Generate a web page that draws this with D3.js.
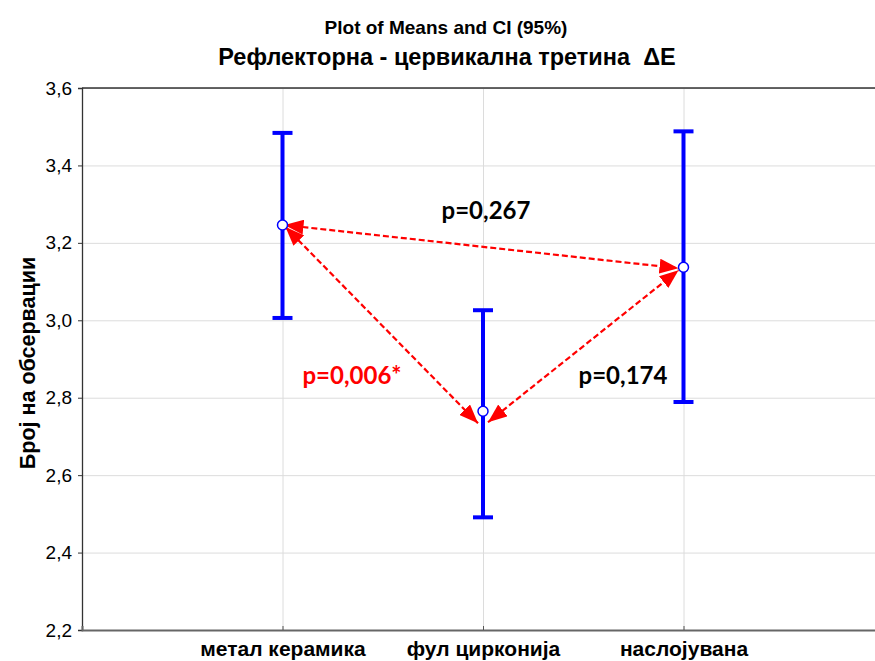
<!DOCTYPE html>
<html>
<head>
<meta charset="utf-8">
<script src="https://cdn.jsdelivr.net/npm/d3@7"></script>
<style>
  body { margin: 0; background: #fff; }
  svg { display: block; }
</style>
</head>
<body>
<div id="chart"></div>
<script>
// groups and their means with 95% CI
const categories = ["метал керамика", "фул циркониja", "наслојувана"];
const means = [3.246, 2.765, 3.137];
const ciLower = [3.006, 2.491, 2.789];
const ciUpper = [3.484, 3.026, 3.488];
const yTicks = [2.2, 2.4, 2.6, 2.8, 3.0, 3.2, 3.4, 3.6];

// pairwise comparisons drawn as double arrows
const comparisons = [
  { a: 0, b: 2, label: "p=0,267", significant: false },
  { a: 0, b: 1, label: "p=0,006*", significant: true },
  { a: 1, b: 2, label: "p=0,174", significant: false }
];

const width = 875;
const height = 661;
const margin = { top: 88, right: -9, bottom: 31, left: 82 };

const svg = d3.select('#chart')
  .append('svg')
  .attr('width', width)
  .attr('height', height);

const x = d3.scaleLinear()
  .domain([0, categories.length + 1])
  .range([margin.left, width - margin.right]);

const y = d3.scaleLinear()
  .domain([2.2, 3.6])
  .range([height - margin.bottom, margin.top]);

// titles
svg.append('text')
  .attr('x', 446).attr('y', 34)
  .attr('text-anchor', 'middle')
  .style('font', 'bold 19px "Liberation Sans", Arial, sans-serif')
  .text('Plot of Means and CI (95%)');

svg.append('text')
  .attr('x', 447).attr('y', 65)
  .attr('text-anchor', 'middle')
  .style('font', 'bold 23.5px "Liberation Sans", Arial, sans-serif')
  .style('white-space', 'pre')
  .text('Рефлекторна - цервикална третина  ΔE');

// gridlines
svg.append('g')
  .attr('class', 'grid-y')
  .attr('transform', `translate(${margin.left},0)`)
  .call(d3.axisLeft(y).tickValues(yTicks).tickFormat('').tickSize(-(width - margin.left)))
  .call(g => g.select('.domain').remove())
  .call(g => g.selectAll('line').attr('stroke', '#dcdcdc'));

svg.append('g')
  .attr('class', 'grid-x')
  .attr('transform', `translate(0,${margin.top})`)
  .call(d3.axisBottom(x).tickValues([1, 2, 3]).tickFormat('').tickSize(height - margin.bottom - margin.top))
  .call(g => g.select('.domain').remove())
  .call(g => g.selectAll('line').attr('stroke', '#dcdcdc'));

// frame: top line and left axis
svg.append('line')
  .attr('x1', margin.left).attr('x2', width)
  .attr('y1', y(3.6)).attr('y2', y(3.6))
  .attr('stroke', '#333').attr('stroke-width', 1.3);

const yAxis = svg.append('g')
  .attr('transform', `translate(${margin.left},0)`)
  .call(d3.axisLeft(y).tickValues(yTicks).tickSize(4).tickPadding(6)
    .tickFormat(d => d3.format('.1f')(d).replace('.', ',')));
yAxis.select('.domain').attr('stroke', '#333').attr('stroke-width', 1.3);
yAxis.selectAll('line').attr('stroke', '#333');
yAxis.selectAll('text')
  .style('font', '19px "Liberation Sans", Arial, sans-serif')
  .attr('fill', '#000');

// bottom axis
const xAxis = svg.append('g')
  .attr('transform', `translate(0,${y(2.2)})`)
  .call(d3.axisBottom(x).tickValues([1, 2, 3]).tickSize(-4).tickPadding(11)
    .tickFormat(d => categories[d - 1]));
xAxis.select('.domain').attr('stroke', '#666').attr('stroke-width', 2);
xAxis.selectAll('line').attr('stroke', '#555');
xAxis.selectAll('text')
  .style('font', 'bold 21px "Liberation Sans", Arial, sans-serif')
  .attr('fill', '#000');

// y title
svg.append('text')
  .attr('transform', `translate(35,${(y(2.2) + y(3.6)) / 2 + 4}) rotate(-90)`)
  .attr('text-anchor', 'middle')
  .style('font', 'bold 21.5px "Liberation Sans", Arial, sans-serif')
  .text('Број на обсервации');

// arrowhead marker
svg.append('defs').append('marker')
  .attr('id', 'arrow')
  .attr('viewBox', '0 0 19 15')
  .attr('refX', 19).attr('refY', 7.5)
  .attr('markerWidth', 19).attr('markerHeight', 15)
  .attr('markerUnits', 'userSpaceOnUse')
  .attr('orient', 'auto-start-reverse')
  .append('path')
  .attr('d', 'M0,0 L19,7.5 L0,15 Z')
  .attr('fill', '#ff0000');

// arrow end points, nudged off the mean markers
const endOffset = {
  '0-2': [[2, 0], [-5, 1]],
  '0-1': [[3, 2], [-5, 12]],
  '1-2': [[5, 11], [-5, 3]]
};

const arrows = svg.append('g').attr('class', 'arrows');
comparisons.forEach(c => {
  const [oa, ob] = endOffset[`${c.a}-${c.b}`];
  arrows.append('line')
    .attr('x1', x(c.a + 1) + oa[0]).attr('y1', y(means[c.a]) + oa[1])
    .attr('x2', x(c.b + 1) + ob[0]).attr('y2', y(means[c.b]) + ob[1])
    .attr('stroke', '#ff0000')
    .attr('stroke-width', 2.2)
    .attr('stroke-dasharray', '6,3')
    .attr('marker-start', 'url(#arrow)')
    .attr('marker-end', 'url(#arrow)');
});

// error bars
const bars = svg.append('g').attr('class', 'bars');
categories.forEach((cat, i) => {
  const cx = x(i + 1);
  bars.append('line')
    .attr('x1', cx).attr('x2', cx)
    .attr('y1', y(ciLower[i])).attr('y2', y(ciUpper[i]))
    .attr('stroke', '#0000ff').attr('stroke-width', 4);
  [ciLower[i], ciUpper[i]].forEach(v => {
    bars.append('line')
      .attr('x1', cx - 10).attr('x2', cx + 10)
      .attr('y1', y(v)).attr('y2', y(v))
      .attr('stroke', '#0000ff').attr('stroke-width', 4);
  });
  bars.append('circle')
    .attr('cx', cx).attr('cy', y(means[i]))
    .attr('r', 5)
    .attr('fill', '#fff')
    .attr('stroke', '#0000ff')
    .attr('stroke-width', 1.5);
});

// p-value labels
const labelPos = [[486, 219], [352, 384], [623, 384]];
comparisons.forEach((c, i) => {
  svg.append('text')
    .attr('x', labelPos[i][0]).attr('y', labelPos[i][1])
    .attr('text-anchor', 'middle')
    .style('font', 'bold 24px Lato, "Open Sans", sans-serif')
    .attr('fill', c.significant ? '#ff0000' : '#000')
    .text(c.label);
});
</script>
</body>
</html>
